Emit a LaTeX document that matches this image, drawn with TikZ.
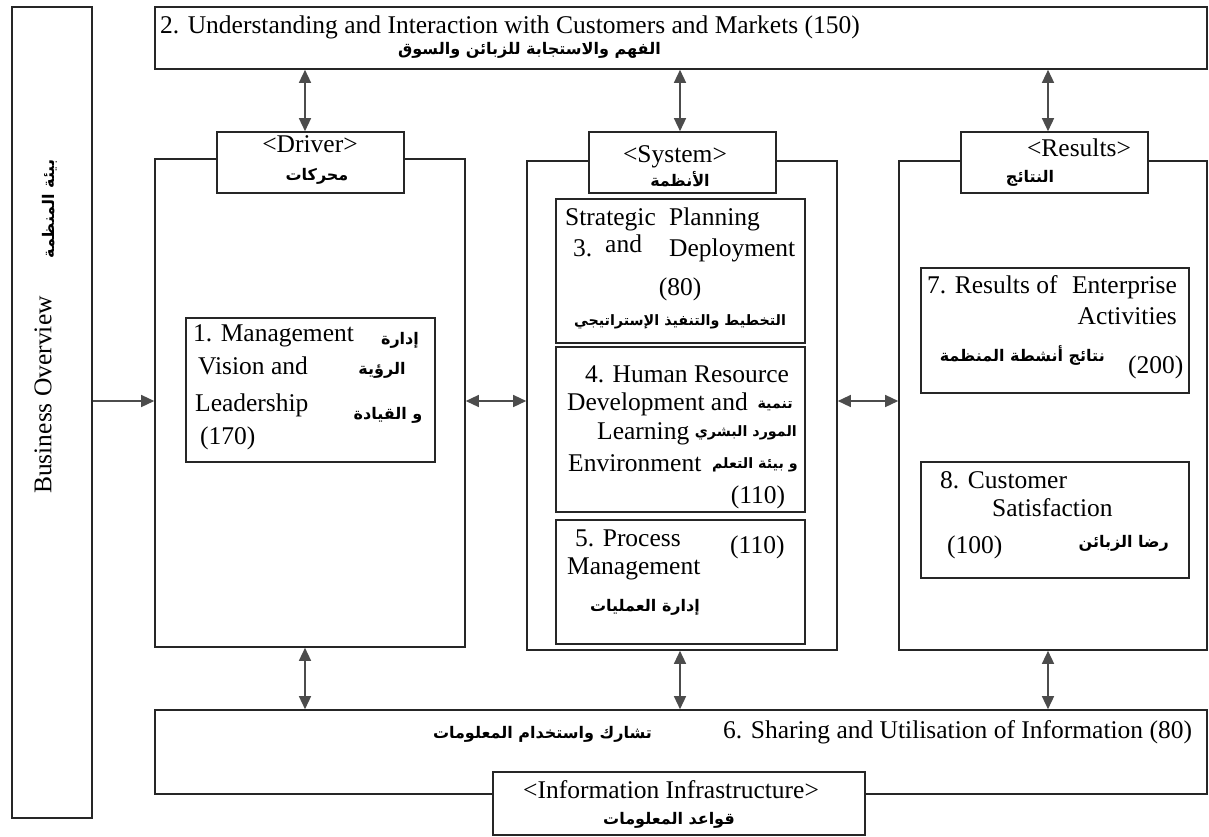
\documentclass[tikz,border=0pt]{standalone}
\usepackage{fontspec}
\setmainfont{Liberation Serif}
\newfontfamily\arabicfont[Script=Arabic]{DejaVu Sans}
\TeXXeTstate=1
\usetikzlibrary{arrows.meta}
\newcommand{\artxt}[1]{{\arabicfont\bfseries\beginR #1\endR}}
\tikzset{
  box/.style={draw=black!85, line width=1.6pt, inner sep=0pt, fill=white},
  en/.style={inner sep=0pt, yshift=-3pt, font=\fontsize{25.5}{30}\selectfont},
  arb/.style={inner sep=0pt, yshift=-2pt, font=\fontsize{16}{20}\selectfont},
  arsmall/.style={inner sep=0pt, yshift=-2pt, font=\fontsize{14.3}{18}\selectfont},
  tip/.tip={Triangle[length=13pt,width=12pt]},
  link/.style={draw=black!70, line width=1.4pt, tip-tip},
  feed/.style={draw=black!70, line width=1.4pt, -tip},
}
\begin{document}
\begin{tikzpicture}[x=1pt, y=-1pt]
\useasboundingbox (0,0) rectangle (1209,836);

% frame boxes
\node[box, minimum width=80pt,   minimum height=811pt] (ctx) at (52,412.5) {};
\node[box, minimum width=1052pt, minimum height=62pt]  (top) at (681,38) {};
\node[box, minimum width=310pt,  minimum height=488pt] (drv) at (310,403) {};
\node[box, minimum width=310pt,  minimum height=489pt] (sys) at (682,405.5) {};
\node[box, minimum width=308pt,  minimum height=489pt] (res) at (1053,405.5) {};
\node[box, minimum width=1052pt, minimum height=84pt]  (info) at (681,752) {};

% group titles
\node[box, minimum width=187pt, minimum height=61pt] (drvlab) at (310.5,162.5) {};
\node[box, minimum width=187pt, minimum height=61pt] (syslab) at (682.5,162.5) {};
\node[box, minimum width=187pt, minimum height=61pt] (reslab) at (1054.5,162.5) {};
\node[box, minimum width=372pt, minimum height=63pt] (infolab) at (679,803.5) {};

% criteria boxes
\node[box, minimum width=249pt, minimum height=144pt] (b1) at (310.5,390) {};
\node[box, minimum width=249pt, minimum height=144pt] (b3) at (680.5,271) {};
\node[box, minimum width=249pt, minimum height=165pt] (b4) at (680.5,429.5) {};
\node[box, minimum width=249pt, minimum height=124pt] (b5) at (680.5,582) {};
\node[box, minimum width=268pt, minimum height=125pt] (b7) at (1055,330.5) {};
\node[box, minimum width=268pt, minimum height=116pt] (b8) at (1055,520) {};

% connectors
\coordinate (row) at (0,401);
\coordinate (c1) at (305,0);
\coordinate (c2) at (680,0);
\coordinate (c3) at (1048,0);
\draw[feed] (ctx.east |- row) -- (drv.west |- row);
\draw[link] (drv.east |- row) -- (sys.west |- row);
\draw[link] (sys.east |- row) -- (res.west |- row);
\draw[link] (c1 |- top.south) -- (c1 |- drvlab.north);
\draw[link] (c2 |- top.south) -- (c2 |- syslab.north);
\draw[link] (c3 |- top.south) -- (c3 |- reslab.north);
\draw[link] (c1 |- drv.south) -- (c1 |- info.north);
\draw[link] (c2 |- sys.south) -- (c2 |- info.north);
\draw[link] (c3 |- res.south) -- (c3 |- info.north);

% top band
\node[en, anchor=mid west] (t2en) at (160,28) {2. Understanding and Interaction with Customers and Markets (150)};
\node[arb, anchor=mid east] (t2ar) at (661,50) {\artxt{الفهم والاستجابة للزبائن والسوق}};

% left band
\node[en, rotate=90, yshift=3pt] (ctxen) at (46,392) {Business Overview};
\node[arb, rotate=90, yshift=2pt] (ctxar) at (52,207) {\artxt{بيئة المنظمة}};

% group titles
\node[en, anchor=mid] (drven) at (310,147) {<Driver>};
\node[arb, anchor=mid] (drvar) at (317,176) {\artxt{محركات}};
\node[en, anchor=mid] (sysen) at (675,157) {<System>};
\node[arb, anchor=mid] (sysar) at (680,182) {\artxt{الأنظمة}};
\node[en, anchor=mid] (resen) at (1079,151) {<Results>};
\node[arb, anchor=mid] (resar) at (1030,178) {\artxt{النتائج}};

% 1
\node[en, anchor=mid west] (b1a) at (193,336) {1. Management};
\node[en, anchor=mid west] (b1b) at (198,369) {Vision and};
\node[en, anchor=mid west] (b1c) at (195,406) {Leadership};
\node[en, anchor=mid west] (b1d) at (200,439) {(170)};
\node[arb, anchor=mid] (b1e) at (400,340) {\artxt{إدارة}};
\node[arb, anchor=mid] (b1f) at (382,370) {\artxt{الرؤية}};
\node[arb, anchor=mid] (b1g) at (388,415) {\artxt{و القيادة}};

% 3
\node[en, anchor=mid west] (b3a) at (565,220) {Strategic};
\node[en, anchor=mid west] (b3b) at (669,220) {Planning};
\node[en, anchor=mid west] (b3c) at (573,251) {3.};
\node[en, anchor=mid west] (b3d) at (605,247) {and};
\node[en, anchor=mid west] (b3e) at (669,251) {Deployment};
\node[en, anchor=mid] (b3f) at (680,290) {(80)};
\node[arsmall, anchor=mid] (b3g) at (680,321) {\artxt{التخطيط والتنفيذ الإستراتيجي}};

% 4
\node[en, anchor=mid] (b4a) at (687,377) {4. Human Resource};
\node[en, anchor=mid west] (b4b) at (567,405) {Development and};
\node[arsmall, anchor=mid east] (b4c) at (793,404) {\artxt{تنمية}};
\node[en, anchor=mid west] (b4d) at (597,434) {Learning};
\node[arsmall, anchor=mid east] (b4e) at (797,432) {\artxt{المورد البشري}};
\node[en, anchor=mid west] (b4f) at (568,466) {Environment};
\node[arsmall, anchor=mid east] (b4g) at (798,464) {\artxt{و بيئة التعلم}};
\node[en, anchor=mid] (b4h) at (758,498) {(110)};

% 5
\node[en, anchor=mid west] (b5a) at (575,541) {5. Process};
\node[en, anchor=mid west] (b5b) at (730,548) {(110)};
\node[en, anchor=mid west] (b5c) at (567,569) {Management};
\node[arb, anchor=mid] (b5d) at (645,607) {\artxt{إدارة العمليات}};

% 7
\node[en, anchor=mid west] (b7a) at (927,288) {7. Results of};
\node[en, anchor=mid east] (b7b) at (1177,288) {Enterprise};
\node[en, anchor=mid east] (b7c) at (1177,319) {Activities};
\node[arb, anchor=mid east] (b7d) at (1105,357) {\artxt{نتائج أنشطة المنظمة}};
\node[en, anchor=mid west] (b7e) at (1128,368) {(200)};

% 8
\node[en, anchor=mid west] (b8a) at (940,483) {8. Customer};
\node[en, anchor=mid west] (b8b) at (992,511) {Satisfaction};
\node[en, anchor=mid west] (b8c) at (947,548) {(100)};
\node[arb, anchor=mid east] (b8d) at (1169,543) {\artxt{رضا الزبائن}};

% bottom band
\node[arb, anchor=mid east] (b6ar) at (652,734) {\artxt{تشارك واستخدام المعلومات}};
\node[en, anchor=mid west] (b6en) at (723,733) {6. Sharing and Utilisation of Information (80)};
\node[en, anchor=mid] (infoen) at (671,793) {<Information Infrastructure>};
\node[arb, anchor=mid] (infoar) at (669,820) {\artxt{قواعد المعلومات}};
\end{tikzpicture}
\end{document}
